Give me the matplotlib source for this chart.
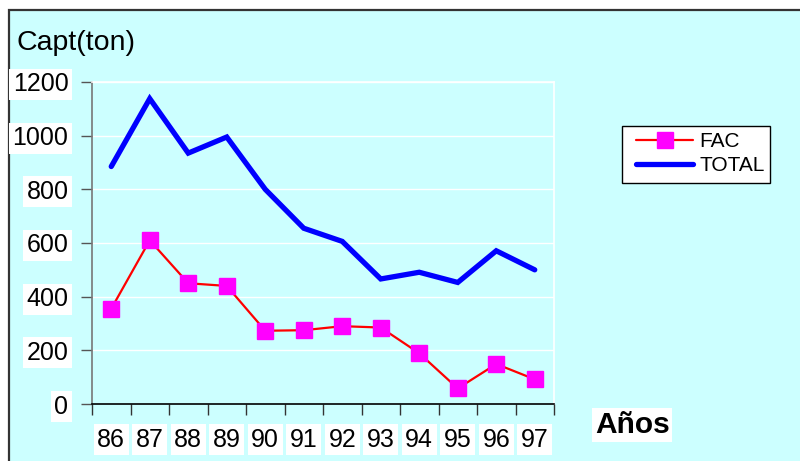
import matplotlib
matplotlib.use("Agg")
import matplotlib.pyplot as plt
from matplotlib.patches import Rectangle
from matplotlib.ticker import FixedLocator, NullFormatter
import numpy as np

plt.rcParams['font.family'] = ['Liberation Sans', 'DejaVu Sans']

# Catch per year (tons)
years = ["86", "87", "88", "89", "90", "91", "92", "93", "94", "95", "96", "97"]
fac = [355, 610, 450, 440, 273, 275, 290, 285, 189, 58, 149, 92]
total = [885, 1138, 935, 995, 800, 655, 606, 466, 491, 453, 571, 500]
y_ticks = [0, 200, 400, 600, 800, 1000, 1200]

BG = "#CCFFFF"
W, H = 800, 461

fig = plt.figure(figsize=(W / 100, H / 100), dpi=100, facecolor="white")

# cyan panel with a dark frame on the top and left
fig.patches.append(Rectangle((9 / W, -0.05), 1.1, (H - 10) / H + 0.05,
                             transform=fig.transFigure, facecolor=BG,
                             edgecolor="#333333", linewidth=1.6, zorder=-10))

ax = fig.add_axes([92 / W, (H - 404) / H, (554 - 92) / W, (404 - 82) / H])
ax.set_facecolor(BG)

x = np.arange(len(years))
ax.plot(x, total, color="#0000FF", linewidth=3.8, solid_capstyle="round",
        solid_joinstyle="miter", label="TOTAL", zorder=3)
ax.plot(x, fac, color="#FF0000", linewidth=1.6, marker="s", markersize=11,
        markerfacecolor="#FF00FF", markeredgecolor="#FF00FF", label="FAC",
        zorder=4)

ax.set_xlim(-0.5, len(years) - 0.5)
ax.set_ylim(0, 1200)

# y axis
ax.set_yticks(y_ticks)
ax.set_yticklabels([str(v) for v in y_ticks])
ax.grid(axis="y", color="white", linewidth=1.0)
ax.set_axisbelow(True)
ax.tick_params(axis="y", direction="out", length=8, width=1, color="#555555",
               labelsize=18, pad=9)
for lbl in ax.get_yticklabels():
    lbl.set_bbox(dict(facecolor="white", edgecolor="none", pad=2.5))

# x axis: ticks on category boundaries, labels at centres
ax.xaxis.set_major_locator(FixedLocator(np.arange(-0.5, len(years), 1.0)))
ax.xaxis.set_major_formatter(NullFormatter())
ax.xaxis.set_minor_locator(FixedLocator(x))
ax.set_xticklabels(years, minor=True)
ax.tick_params(axis="x", which="major", direction="out", length=8, width=1,
               color="#333333")
ax.tick_params(axis="x", which="minor", length=0, labelsize=18, pad=17)
for lbl in ax.get_xticklabels(minor=True):
    lbl.set_bbox(dict(facecolor="white", edgecolor="none", pad=2.5))

ax.spines["left"].set_color("#777777")
ax.spines["left"].set_linewidth(1.2)
ax.spines["bottom"].set_color("black")
ax.spines["bottom"].set_linewidth(1.2)
ax.spines["right"].set_color("white")
ax.spines["top"].set_color("white")
ax.spines["right"].set_linewidth(1.2)
ax.spines["top"].set_linewidth(1.2)

fig.text(17 / W, 1 - 50 / H, "Capt(ton)", fontsize=20.5, ha="left",
         va="baseline")
fig.text(595 / W, 1 - 433 / H, "Años", fontsize=21.5, fontweight="bold",
         ha="left", va="baseline",
         bbox=dict(facecolor="white", edgecolor="none", pad=2))

# legend box drawn separately so its padding can be set freely
fig.patches.append(Rectangle((622 / W, 1 - 183 / H), 148 / W, 57 / H,
                             transform=fig.transFigure, facecolor="white",
                             edgecolor="black", linewidth=1.0, zorder=4))
handles, labels = ax.get_legend_handles_labels()
leg = fig.legend(handles[::-1], labels[::-1], loc="upper left",
                 bbox_to_anchor=(636 / W, 1 - 132 / H), fontsize=15,
                 frameon=False, handlelength=2.75, handletextpad=0.3,
                 borderpad=0, labelspacing=0.25, borderaxespad=0)
leg.set_zorder(5)
for line in leg.get_lines():
    line.set_solid_capstyle("round")

fig.savefig("out.png", dpi=100, facecolor="white")
